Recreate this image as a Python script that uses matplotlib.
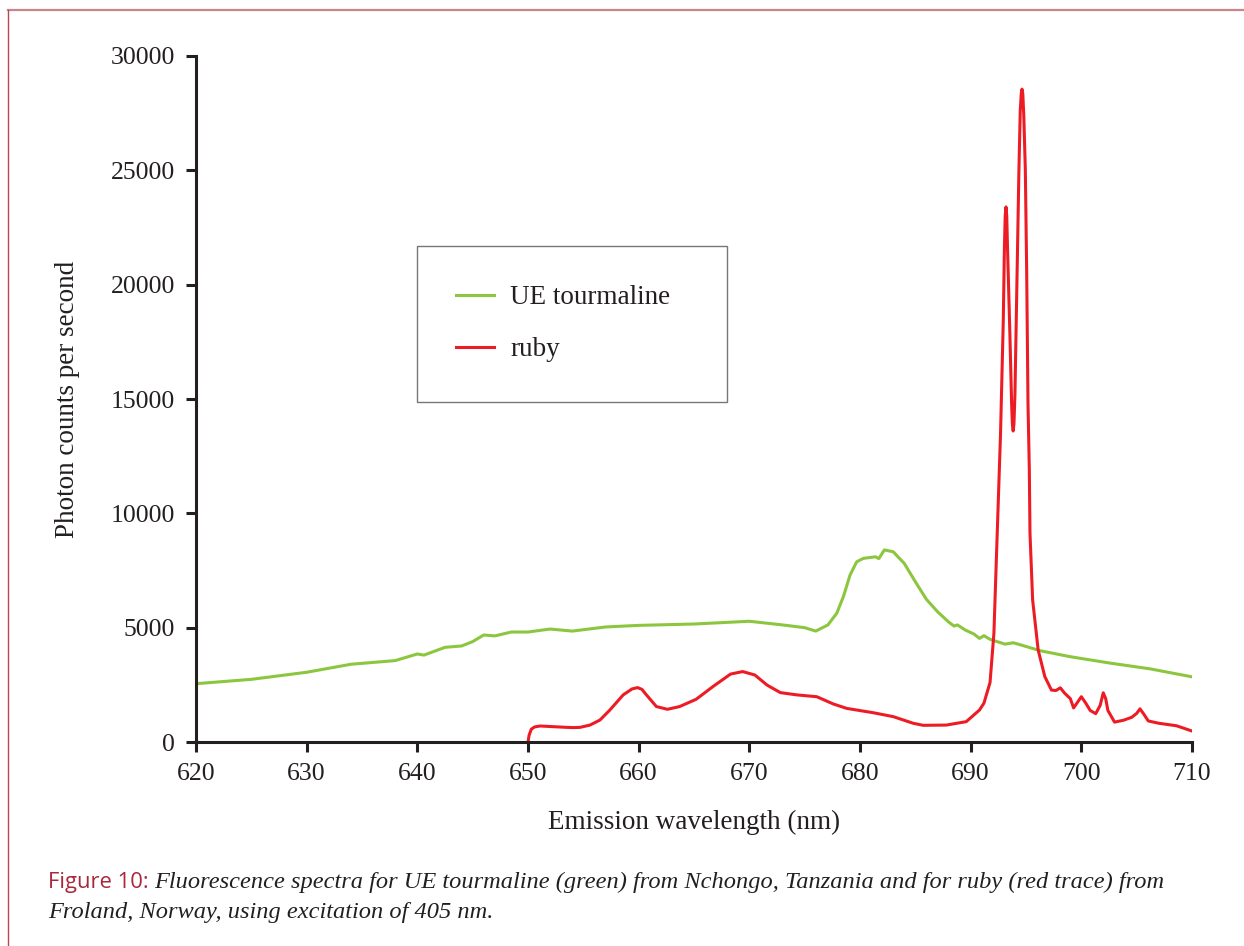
import matplotlib
matplotlib.use("Agg")
import matplotlib.pyplot as plt
from matplotlib.lines import Line2D

# UE tourmaline emission (nm, counts/s)
tourm_wl = [620, 625, 630, 634, 638, 640, 640.6, 642.5, 644, 645, 646, 647,
            648.5, 650, 652, 654, 655.5, 657, 660, 665, 670, 673, 675, 676.0,
            677.1, 677.9, 678.5, 679.1, 679.7, 680.3, 681.4, 681.7, 682.2,
            683.0, 684, 685, 686, 687, 688, 688.5, 688.8, 689.5, 690.3,
            690.8, 691.2, 691.75, 693.1, 693.85, 694.5, 696.3, 699.0, 702.6,
            706.2, 710]
tourm_cts = [2550, 2740, 3050, 3400, 3560, 3850, 3800, 4140, 4200, 4390, 4680,
             4640, 4810, 4810, 4940, 4850, 4940, 5030, 5100, 5160, 5280, 5120,
             5000, 4850, 5120, 5630, 6360, 7300, 7880, 8030, 8100, 8020, 8400,
             8320, 7810, 7010, 6240, 5700, 5250, 5070, 5120, 4900, 4720, 4530,
             4650, 4490, 4280, 4340, 4250, 3990, 3730, 3450, 3200, 2850]

# ruby emission (nm, counts/s)
ruby_wl = [650.0, 650.1, 650.3, 650.6, 651.1, 652.3, 653.5, 654.1, 654.7,
           655.6, 656.5, 657.4, 658.6, 659.4, 659.9, 660.3, 660.7, 661.6,
           662.6, 663.7, 665.2, 666.7, 668.3, 669.4, 670.5, 671.6, 672.8,
           674.3, 676.1, 677.6, 678.8, 681.2, 683.0, 684.8, 685.7, 687.8,
           689.6, 690.8, 691.2, 691.75, 692.1, 692.4, 692.7, 692.95, 693.05,
           693.12, 693.19, 693.26, 693.33, 693.55, 693.7, 693.77, 693.84,
           693.91, 694.0, 694.2, 694.36, 694.48, 694.57, 694.64, 694.71,
           694.8, 694.94, 695.06, 695.18, 695.3, 695.36, 695.6, 696.1,
           696.7, 697.3, 697.7, 698.1, 698.5, 699.0, 699.3, 699.6, 700.0,
           700.4, 700.8, 701.3, 701.7, 701.98, 702.2, 702.4, 703.0, 703.8,
           704.55, 705.0, 705.3, 705.6, 706.05, 707.0, 708.6, 710.0]
ruby_cts = [0, 300, 560, 660, 700, 670, 640, 630, 640, 740, 960, 1400, 2060,
            2320, 2380, 2300, 2060, 1550, 1430, 1550, 1870, 2420, 2970, 3080,
            2930, 2490, 2160, 2060, 1980, 1660, 1470, 1280, 1110, 820, 730,
            740, 890, 1400, 1700, 2600, 4750, 9130, 13500, 18500, 21600,
            23000, 23400, 23000, 21600, 17730, 14800, 13900, 13600, 13900,
            15200, 20640, 25010, 27600, 28350, 28550, 28350, 27400, 25010,
            20640, 14810, 11900, 9130, 6210, 4020, 2860, 2270, 2250, 2370,
            2130, 1900, 1490, 1700, 1980, 1700, 1380, 1240, 1600, 2150, 1900,
            1380, 870, 950, 1080, 1250, 1450, 1250, 920, 820, 710, 480]

x_ticks = [620, 630, 640, 650, 660, 670, 680, 690, 700, 710]
y_ticks = [0, 5000, 10000, 15000, 20000, 25000, 30000]

GREEN = "#8cc63f"
RED = "#ed1c24"
INK = "#231f20"
SERIF = ["Liberation Serif", "DejaVu Serif"]

plt.rcParams["font.family"] = SERIF

fig = plt.figure(figsize=(12.44, 9.46), dpi=100)
ax = fig.add_axes([196 / 1244, 1 - 742 / 946, 996 / 1244, 686 / 946])

ax.plot(tourm_wl, tourm_cts, color=GREEN, lw=2.2, label="UE tourmaline",
        solid_joinstyle="round")
ax.plot(ruby_wl, ruby_cts, color=RED, lw=2.2, label="ruby",
        solid_joinstyle="round")

ax.set_xlim(620, 710)
ax.set_ylim(0, 30000)
ax.set_xticks(x_ticks)
ax.set_yticks(y_ticks)
ax.tick_params(direction="out", length=7, width=2.2, color=INK,
               labelsize=18.5, labelcolor=INK, pad=8)
for side in ("top", "right"):
    ax.spines[side].set_visible(False)
for side in ("left", "bottom"):
    ax.spines[side].set_linewidth(2.2)
    ax.spines[side].set_color(INK)

ax.set_xlabel("Emission wavelength (nm)", fontsize=19.5, color=INK, labelpad=18)
ax.set_ylabel("Photon counts per second", fontsize=19.5, color=INK, labelpad=22)

# legend box stretched to a fixed width
leg = ax.legend(loc="upper left", bbox_to_anchor=(0.2219, 0.5, 0.3112, 0.223),
                mode="expand", fontsize=19.5, frameon=True, fancybox=False,
                handlelength=1.4, handletextpad=0.6, borderpad=1.45,
                labelspacing=1.0, borderaxespad=0)
leg.get_frame().set_edgecolor("#555555")
leg.get_frame().set_linewidth(1.0)
for t in leg.get_texts():
    t.set_color(INK)

# page frame lines
fig.add_artist(Line2D([8 / 1244, 1], [1 - 10 / 946] * 2, color="#c9858b", lw=1.6))
fig.add_artist(Line2D([8 / 1244] * 2, [0, 1 - 10 / 946], color="#b8474f", lw=1.0))

# caption
fig.canvas.draw()
r = fig.canvas.get_renderer()
lead = fig.text(48 / 1244, 1 - 888 / 946, "Figure 10:", color="#a8283a",
                fontsize=15.8, family=["Open Sans", "DejaVu Sans"], va="baseline")
bb = lead.get_window_extent(renderer=r)
fig.text(bb.x1 / fig.bbox.width + 6 / 1244, 1 - 888 / 946,
         "Fluorescence spectra for UE tourmaline (green) from Nchongo, "
         "Tanzania and for ruby (red trace) from",
         fontsize=17.6, style="italic", color=INK, va="baseline")
fig.text(48 / 1244, 1 - 918 / 946,
         "Froland, Norway, using excitation of 405 nm.",
         fontsize=17.6, style="italic", color=INK, va="baseline")

fig.savefig("out.png", dpi=100)
